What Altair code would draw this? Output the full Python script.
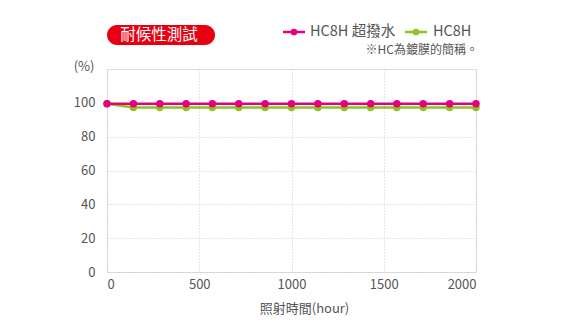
import altair as alt
import pandas as pd

hours = [0, 143, 286, 429, 571, 714, 857, 1000, 1143, 1286, 1429, 1571, 1714, 1857, 2000]
hc8h_super = [99.5, 99.5, 99.5, 99.5, 99.5, 99.5, 99.5, 99.5, 99.5, 99.5, 99.5, 99.5, 99.5, 99.5, 99.5]
hc8h = [99.5, 97.2, 97.2, 97.2, 97.2, 97.2, 97.2, 97.2, 97.2, 97.2, 97.2, 97.2, 97.2, 97.2, 97.2]
series_names = ["HC8H 超撥水", "HC8H"]
series_colors = ["#e4007f", "#8fc31f"]
x_ticks = [0, 500, 1000, 1500, 2000]
y_ticks = [0, 20, 40, 60, 80, 100]

FONT = "Noto Sans CJK TC"
GRAY = "#555555"

df = pd.DataFrame({
    "hour": hours * 2,
    "value": hc8h_super + hc8h,
    "series": [series_names[0]] * len(hours) + [series_names[1]] * len(hours),
})

x_enc = alt.X("hour:Q", scale=alt.Scale(domain=[0, 2000], nice=False),
              axis=alt.Axis(values=x_ticks, format="d", title="照射時間(hour)", titleX=197, titleY=30,
                            titleFont=FONT, titleFontSize=13, titleFontWeight="normal", titleColor=GRAY,
                            labelFont=FONT, labelFontSize=13, labelColor=GRAY, labelPadding=6,
                            ticks=False, domain=False,
                            grid=True, gridDash=[1, 2], gridColor="#cccccc", gridWidth=1))
y_enc = alt.Y("value:Q", scale=alt.Scale(domain=[0, 120], nice=False),
              axis=alt.Axis(values=y_ticks, format="d", title=None,
                            labelFont=FONT, labelFontSize=13, labelColor=GRAY, labelPadding=12,
                            ticks=False, domain=False,
                            grid=True, gridDash=[1, 2], gridColor="#cccccc", gridWidth=1))
color_enc = alt.Color("series:N", scale=alt.Scale(domain=series_names, range=series_colors), legend=None)

layers = []
for name in ["HC8H", "HC8H 超撥水"]:
    base = alt.Chart(df).transform_filter(alt.datum.series == name)
    layers.append(base.mark_line(strokeWidth=2.5).encode(x=x_enc, y=y_enc, color=color_enc))
    layers.append(base.mark_circle(size=55, opacity=1).encode(x=x_enc, y=y_enc, color=color_enc))

deco = alt.Chart(pd.DataFrame({"k": [0]}))

# badge
badge = deco.mark_rect(color="#e60012", cornerRadius=10).encode(
    x=alt.value(0), x2=alt.value(108), y=alt.value(-44), y2=alt.value(-24))
badge_text = deco.mark_text(text="耐候性測試", font=FONT, fontSize=15.5, color="white",
                            fontWeight="normal", align="center", baseline="middle").encode(
    x=alt.value(52), y=alt.value(-34))

# legend
leg = []
lx = [176, 298]
ltxt = [203, 326]
for i in range(2):
    leg.append(deco.mark_rule(color=series_colors[i], strokeWidth=2.5).encode(
        x=alt.value(lx[i]), x2=alt.value(lx[i] + 22), y=alt.value(-37)))
    leg.append(deco.mark_circle(color=series_colors[i], size=45, opacity=1).encode(
        x=alt.value(lx[i] + 11), y=alt.value(-37)))
    leg.append(deco.mark_text(text=series_names[i], font=FONT, fontSize=14.5, color=GRAY,
                              align="left", baseline="middle").encode(
        x=alt.value(ltxt[i]), y=alt.value(-37)))
note = deco.mark_text(text="※HC為鍍膜的簡稱。", font=FONT, fontSize=12, color=GRAY,
                      align="right", baseline="middle").encode(x=alt.value(371), y=alt.value(-19))
pct = deco.mark_text(text="(%)", font=FONT, fontSize=13, color=GRAY,
                     align="center", baseline="middle").encode(x=alt.value(-23), y=alt.value(-2))

chart = alt.layer(*layers, badge, badge_text, *leg, note, pct).properties(
    width=369, height=203,
    autosize=alt.AutoSizeParams(type="none"),
    padding={"left": 107, "top": 69, "right": 94, "bottom": 58},
).configure_view(stroke="#c4c4c4", strokeWidth=2).configure(background="white")

chart.save("out.html", embed_options={"renderer": "svg", "actions": False})
